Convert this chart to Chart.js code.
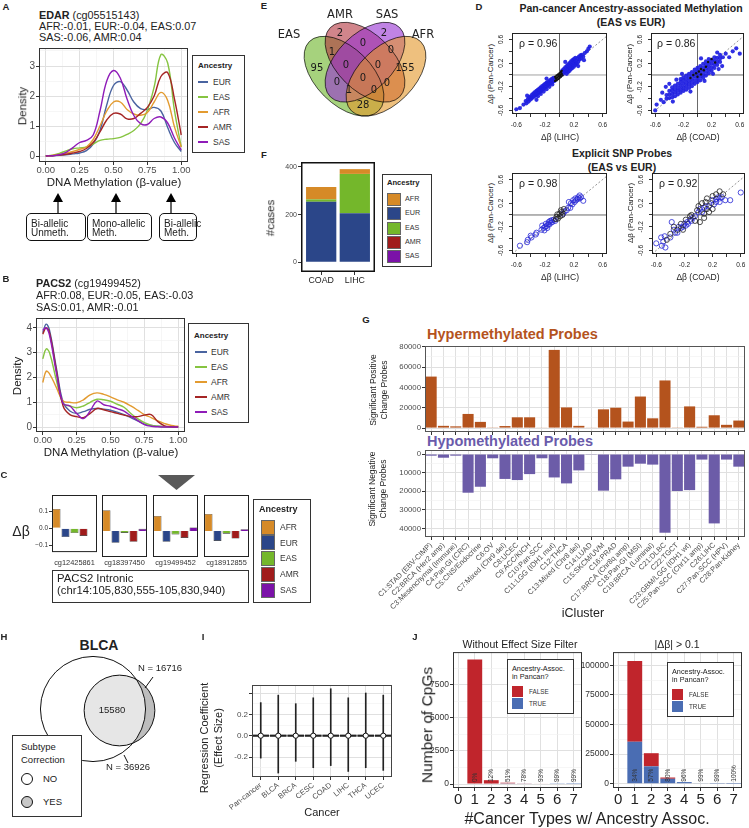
<!DOCTYPE html>
<html><head><meta charset="utf-8">
<script src="https://cdn.jsdelivr.net/npm/chart.js@4.4.1/dist/chart.umd.min.js"></script>
<style>
html,body{margin:0;padding:0;background:#fff;}
#root{position:relative;width:749px;height:828px;overflow:hidden;font-family:'Liberation Sans',Arial,sans-serif;color:#222;background:#fff;}
</style></head><body><div id="root"></div>
<script>
// ================= DATA =================
const ancestryDens = ['EUR','EAS','AFR','AMR','SAS'];
const ancestryBar = ['AFR','EUR','EAS','AMR','SAS'];
// Panel A densities (EDAR cg05515143)
const aX   = [0,0.05,0.1,0.15,0.2,0.25,0.3,0.35,0.4,0.45,0.5,0.55,0.6,0.65,0.7,0.75,0.8,0.85,0.9,0.95,1];
const aEUR = [0,0.01,0.02,0.04,0.07,0.1,0.18,0.4,0.85,1.7,2.35,2.48,2.2,1.8,1.58,1.55,1.62,1.5,0.95,0.45,0.15];
const aEAS = [0,0.03,0.09,0.17,0.24,0.27,0.3,0.4,0.52,0.56,0.58,0.62,0.72,0.85,1.08,1.52,2.3,3.38,3.1,1.52,0.3];
const aAFR = [0,0.02,0.05,0.1,0.15,0.22,0.3,0.55,1.0,1.5,1.8,1.8,1.55,1.4,1.36,1.45,1.8,2.12,1.85,0.97,0.3];
const aAMR = [0,0.01,0.03,0.06,0.1,0.15,0.25,0.45,0.8,1.2,1.42,1.4,1.24,1.25,1.42,1.62,2.0,2.65,2.78,1.9,0.7];
const aSAS = [0,0.01,0.04,0.12,0.28,0.45,0.52,0.7,1.5,2.5,2.85,2.6,1.9,1.35,1.08,1.05,1.25,1.3,1.1,0.6,0.2];
// Panel B densities (PACS2 cg19499452)
const bX   = [0,0.025,0.05,0.1,0.15,0.2,0.25,0.3,0.35,0.4,0.45,0.5,0.55,0.6,0.65,0.7,0.75,0.8,0.85,0.9,0.95,1];
const bEUR = [3.8,4.15,3.9,2.4,1.0,0.65,0.55,0.62,0.72,0.75,0.72,0.68,0.6,0.5,0.38,0.25,0.12,0.06,0.03,0.01,0,0];
const bEAS = [2.75,3.15,3.0,1.9,0.95,0.85,0.78,0.85,1.0,1.12,1.1,1.04,0.92,0.8,0.55,0.34,0.18,0.08,0.03,0.01,0,0];
const bAFR = [1.8,2.25,2.15,1.6,1.05,1.0,0.98,1.1,1.3,1.38,1.32,1.22,1.1,1.0,0.85,0.68,0.5,0.38,0.25,0.14,0.06,0.03];
const bAMR = [3.75,4.0,3.8,2.3,0.85,0.5,0.42,0.38,0.55,0.75,0.7,0.62,0.55,0.48,0.42,0.42,0.48,0.5,0.22,0.05,0.01,0];
const bSAS = [3.9,4.0,3.7,2.2,0.95,0.85,0.55,0.34,0.65,1.05,0.9,0.84,0.74,0.64,0.45,0.27,0.1,0.03,0.01,0,0,0];
// Panel C delta-beta per probe (AFR, EUR, EAS, AMR, SAS)
const cProbes = ['cg12425861','cg18397450','cg19499452','cg18912855'];
const c_cg12425861 = [0.113,-0.052,-0.028,-0.045,0.003];
const c_cg18397450 = [0.113,-0.063,-0.01,-0.058,0.012];
const c_cg19499452 = [0.082,-0.058,-0.018,-0.037,0.02];
const c_cg18912855 = [0.093,-0.053,-0.014,-0.04,0.01];
// Panel D scatter (x = cancer-specific delta-beta, y = pan-cancer delta-beta)
const dLihcBlue = [[-0.60,-0.58],[-0.55,-0.56],[-0.50,-0.50],[-0.47,-0.44],[-0.46,-0.48],[-0.45,-0.35],[-0.44,-0.41],[-0.43,-0.45],[-0.42,-0.38],[-0.41,-0.42],[-0.40,-0.36],[-0.39,-0.40],[-0.38,-0.33],[-0.37,-0.38],[-0.36,-0.31],[-0.35,-0.36],[-0.34,-0.29],[-0.33,-0.34],[-0.32,-0.27],[-0.32,-0.42],[-0.31,-0.32],[-0.30,-0.25],[-0.30,-0.36],[-0.29,-0.30],[-0.28,-0.23],[-0.27,-0.28],[-0.26,-0.21],[-0.26,-0.32],[-0.25,-0.26],[-0.24,-0.19],[-0.23,-0.24],[-0.22,-0.17],[-0.22,-0.28],[-0.21,-0.22],[-0.20,-0.15],[-0.19,-0.20],[-0.18,-0.13],[-0.18,-0.24],[-0.18,-0.06],[-0.17,-0.18],[-0.16,-0.12],[-0.15,-0.16],[-0.14,-0.10],[-0.14,-0.20],[-0.13,-0.14],[-0.12,-0.08],[-0.11,-0.13],[-0.10,-0.06],[-0.10,-0.16],[-0.09,-0.11],[-0.08,-0.05],[-0.07,-0.10],[0.04,0.08],[0.05,0.02],[0.06,0.10],[0.07,0.05],[0.08,0.13],[0.08,0.22],[0.09,0.07],[0.10,0.02],[0.10,0.15],[0.11,0.10],[0.12,0.05],[0.12,0.18],[0.13,0.12],[0.14,0.07],[0.14,0.20],[0.15,0.15],[0.16,0.10],[0.16,0.23],[0.17,0.17],[0.18,0.12],[0.18,0.25],[0.19,0.20],[0.20,0.14],[0.20,0.27],[0.21,0.22],[0.22,0.17],[0.22,0.29],[0.23,0.24],[0.24,0.19],[0.25,0.28],[0.26,0.22],[0.26,0.15],[0.27,0.31],[0.28,0.26],[0.29,0.33],[0.30,0.28],[0.31,0.34],[0.33,0.31],[0.34,0.25],[0.35,0.37],[0.38,0.40],[0.40,0.44],[0.42,0.48]];
const dLihcBlack = [[-0.06,-0.03],[-0.06,-0.10],[-0.05,-0.06],[-0.04,-0.01],[-0.04,-0.09],[-0.03,-0.04],[-0.02,0.01],[-0.02,-0.07],[-0.01,-0.02],[0.00,0.03],[0.00,-0.05],[0.01,0.00],[0.02,0.05],[0.02,-0.03],[0.03,0.02],[0.04,-0.01],[0.03,0.07]];
const dCoadBlue = [[-0.44,-0.40],[-0.44,-0.34],[-0.40,-0.39],[-0.40,-0.33],[-0.40,-0.27],[-0.36,-0.38],[-0.36,-0.32],[-0.36,-0.26],[-0.36,-0.21],[-0.32,-0.36],[-0.32,-0.30],[-0.32,-0.24],[-0.32,-0.18],[-0.28,-0.33],[-0.28,-0.27],[-0.28,-0.21],[-0.28,-0.15],[-0.24,-0.30],[-0.24,-0.24],[-0.24,-0.18],[-0.24,-0.12],[-0.24,-0.07],[-0.20,-0.27],[-0.20,-0.21],[-0.20,-0.15],[-0.20,-0.09],[-0.20,-0.04],[-0.16,-0.25],[-0.16,-0.19],[-0.16,-0.13],[-0.16,-0.07],[-0.16,-0.01],[-0.12,-0.22],[-0.12,-0.16],[-0.12,-0.10],[-0.12,-0.04],[-0.12,0.02],[-0.08,-0.19],[-0.08,-0.13],[-0.08,-0.07],[-0.08,-0.01],[-0.08,0.05],[-0.04,-0.15],[-0.04,-0.09],[-0.04,-0.03],[-0.04,0.03],[-0.04,0.09],[0.00,-0.12],[0.00,-0.06],[0.00,0.00],[0.00,0.06],[0.00,0.12],[0.04,-0.09],[0.04,-0.03],[0.04,0.03],[0.04,0.09],[0.04,0.15],[0.08,-0.05],[0.08,0.01],[0.08,0.07],[0.08,0.13],[0.08,0.19],[0.12,-0.01],[0.12,0.05],[0.12,0.11],[0.12,0.17],[0.12,0.23],[0.16,0.03],[0.16,0.09],[0.16,0.15],[0.16,0.21],[0.16,0.27],[0.20,0.07],[0.20,0.13],[0.20,0.19],[0.20,0.25],[0.24,0.12],[0.24,0.18],[0.24,0.24],[0.24,0.30],[0.28,0.17],[0.28,0.23],[0.28,0.29],[0.32,0.22],[0.32,0.28],[0.32,0.34],[0.36,0.30],[-0.58,-0.50],[-0.52,-0.42],[-0.50,-0.30],[-0.48,-0.46],[-0.45,-0.20],[-0.40,-0.15],[-0.35,-0.45],[-0.30,-0.08],[-0.22,0.02],[-0.10,-0.28],[0.05,0.28],[0.10,-0.10],[0.22,0.02],[0.28,0.38],[0.35,0.15],[0.40,0.36],[0.45,0.30],[0.50,0.40],[0.55,0.45],[0.60,0.36],[-0.60,-0.60],[0.30,0.10]];
const dCoadBlack = [[-0.10,-0.05],[-0.06,0.00],[-0.02,0.03],[0.00,-0.03],[0.02,0.06],[0.05,0.01],[0.05,0.10],[0.09,0.08],[0.12,0.14],[0.15,0.22],[0.20,0.27],[0.25,0.21]];
const dSnpLihcBlue = [[-0.55,-0.52],[-0.45,-0.46],[-0.44,-0.42],[-0.40,-0.35],[-0.39,-0.38],[-0.33,-0.33],[-0.32,-0.30],[-0.25,-0.25],[-0.24,-0.18],[-0.22,-0.22],[-0.21,-0.26],[-0.20,-0.20],[-0.19,-0.15],[-0.18,-0.19],[-0.17,-0.22],[-0.16,-0.16],[-0.15,-0.12],[-0.14,-0.16],[-0.13,-0.10],[-0.12,-0.13],[-0.11,-0.09],[-0.10,-0.12],[-0.08,-0.08],[-0.06,-0.10],[0.05,0.02],[0.07,0.06],[0.10,0.08],[0.12,0.12],[0.13,0.22],[0.15,0.12],[0.16,0.20],[0.18,0.18],[0.19,0.25],[0.21,0.22],[0.22,0.28],[0.23,0.25],[0.25,0.27],[0.26,0.30],[0.28,0.33],[0.30,0.30],[0.33,0.24],[0.28,0.28]];
const dSnpLihcBlack = [[-0.05,-0.07],[-0.04,-0.03],[-0.03,0.01],[-0.02,-0.06],[0.00,0.02],[0.01,-0.02],[0.02,0.08],[0.03,0.05],[0.04,0.00],[0.06,0.10]];
const dSnpCoadBlue = [[-0.60,-0.48],[-0.53,-0.38],[-0.52,-0.52],[-0.50,-0.45],[-0.48,-0.36],[-0.47,-0.55],[-0.40,-0.38],[-0.38,-0.12],[-0.35,-0.25],[-0.33,-0.30],[-0.30,-0.30],[-0.28,-0.20],[-0.25,-0.22],[-0.22,-0.20],[-0.20,-0.15],[-0.18,-0.18],[-0.16,-0.12],[-0.15,-0.15],[-0.12,-0.08],[-0.10,-0.10],[-0.08,-0.05],[-0.05,-0.02],[0.00,0.05],[0.02,0.10],[0.05,0.05],[0.08,0.12],[0.10,0.15],[0.15,0.15],[0.20,0.25],[0.22,0.18],[0.25,0.27],[0.28,0.30],[0.30,0.22],[0.33,0.30],[0.38,0.25],[0.45,0.25],[0.60,0.38],[0.30,0.28],[0.25,0.22]];
const dSnpCoadBlack = [[-0.45,-0.42],[-0.40,-0.32],[-0.35,-0.20],[-0.30,-0.25],[-0.25,-0.15],[-0.22,-0.25],[-0.18,-0.08],[-0.12,-0.02],[-0.10,0.00],[-0.05,-0.10],[-0.02,0.08],[0.00,0.15],[0.02,-0.12],[0.05,0.20],[0.08,0.02],[0.08,-0.05],[0.10,0.22],[0.12,0.10],[0.12,0.28],[0.15,0.05],[0.18,0.20],[0.20,0.10],[0.20,0.32],[0.25,0.35],[0.30,0.40],[0.35,0.35]];
const dRho = ['0.96','0.86','0.98','0.92'];
// Panel E Venn counts
const vennSets = ['EAS','AMR','SAS','AFR'];
const vennCounts = [2,2,0,1,0,95,0,0,155,0,0,0,1,0,28];
// Panel F cases
const fCancers = ['COAD','LIHC'];
const fAFR = [52,20];
const fEUR = [254,206];
const fEAS = [10,165];
const fAMR = [0,0];
const fSAS = [0,0];
// Panel G iCluster probes
const gClusters = ['C1:STAD (EBV-CIMP)','C2:BRCA (Her2 amp)','C3:Mesenchymal (Immune)','C4:Pan-GI (CRC)','C5:CNS/Endocrine','C6:OV','C7:Mixed (Chr9 del)','C8:UCEC','C9:ACC/KICH','C10:Pan-SCC','C11:LGG (IDH1 mut)','C12:THCA','C13:Mixed (Chr8 del)','C14:LUAD','C15:SKCM/UVM','C16:PRAD','C17:BRCA (Chr8q amp)','C18:Pan-GI (MSI)','C19:BRCA (Luminal)','C21:DLBC','C22:TGCT','C23:GBM/LGG (IDH1 wt)','C25:Pan-SCC (Chr11 amp)','C26:LIHC','C27:Pan-SCC (HPV)','C28:Pan-Kidney'];
const gHyper = [50600,2200,1700,13900,6100,300,2000,10600,10600,600,76800,20300,2200,600,18400,20000,6400,31000,9600,46800,300,21300,1300,12600,3200,7400];
const gHypo  = [900,2000,900,20800,17600,2300,13400,14000,10800,2300,12600,15800,8800,400,19700,13600,6800,5200,5700,42300,19900,19400,3000,37300,3000,6800];
// Panel H BLCA overlap
const hNo = 36926, hYes = 16716, hBoth = 15580;
// Panel I regression coefficients
const iCancers = ['Pan-cancer','BLCA','BRCA','CESC','COAD','LIHC','THCA','UCEC'];
const iMin = [-0.21,-0.35,-0.24,-0.30,-0.28,-0.335,-0.30,-0.325];
const iMax = [0.31,0.38,0.30,0.355,0.44,0.355,0.40,0.38];
const iMedian = [0,0,0,0,0,0,0,0];
// Panel J CpG counts
const jTypes = [1,2,3,4,5,6,7];
const jNoFiltTrue  = [0,35,50,31,37,20,10];
const jNoFiltFalse = [9390,255,48,9,3,0,0];
const jNoFiltPct = ['0%','12%','51%','78%','93%','99%','99%'];
const jEffTrue  = [35500,14700,4200,1400,500,150,40];
const jEffFalse = [68100,11100,1050,60,5,2,0];
const jEffPct = ['34%','57%','80%','96%','99%','99%','100%'];

// ================= STYLE / LAYOUT =================
const FONT = "'Liberation Sans', Arial, Helvetica, sans-serif";
const densColor = {EUR:'#4A64A0', EAS:'#86C441', AFR:'#E39B30', AMR:'#A52525', SAS:'#8F1CB8'};
const ancColor = {AFR:'#D68A27', EUR:'#2B4689', EAS:'#74B72B', AMR:'#A01C1C', SAS:'#7B12A8'};
Chart.defaults.font.family = FONT;
Chart.defaults.color = '#333';
Chart.defaults.plugins.legend.display = false;
Chart.defaults.plugins.tooltip.enabled = false;
Chart.defaults.animation = false;
Chart.defaults.events = [];
const root = document.getElementById('root');

function T(s, x, y, o = {}) {
  const d = document.createElement('div');
  d.innerHTML = s;
  const a = o.a || 'c';
  let tf = a === 'l' ? 'translate(0,-50%)' : a === 'r' ? 'translate(-100%,-50%)' : 'translate(-50%,-50%)';
  if (o.rot) tf += ` rotate(${o.rot}deg)`;
  d.style.cssText = `position:absolute;left:${x}px;top:${y}px;white-space:nowrap;line-height:1;transform:${tf};font-size:${o.fs||10}px;font-weight:${o.b?'bold':'normal'};color:${o.c||'#222'};font-family:${o.ff||FONT};`;
  root.appendChild(d); return d;
}
function R(x1, y1, x2, y2, css = '') {
  const d = document.createElement('div');
  d.style.cssText = `position:absolute;left:${x1}px;top:${y1}px;width:${x2-x1}px;height:${y2-y1}px;box-sizing:border-box;${css}`;
  root.appendChild(d); return d;
}
function mk(box, m, cfg, plugins = []) {
  const c = document.createElement('canvas');
  const W = box.r - box.l + m.l + m.r, H = box.b - box.t + m.t + m.b;
  c.width = W; c.height = H;
  c.style.cssText = `position:absolute;left:${box.l - m.l}px;top:${box.t - m.t}px;width:${W}px;height:${H}px;`;
  root.appendChild(c);
  const o = cfg.options = cfg.options || {};
  o.responsive = false; o.maintainAspectRatio = false; o.animation = false; o.devicePixelRatio = 1;
  o.layout = {padding: {left: 0, top: m.t, right: m.r, bottom: 0}};
  o.scales.x.afterFit = s => { s.height = m.b; };
  o.scales.y.afterFit = s => { s.width = m.l; };
  cfg.plugins = (cfg.plugins || []).concat(plugins);
  return new Chart(c, cfg);
}
function boxP(color, w) {
  return {id: 'box', afterDatasetsDraw(ch) {
    const a = ch.chartArea, ctx = ch.ctx;
    ctx.save(); ctx.strokeStyle = color; ctx.lineWidth = w;
    ctx.strokeRect(a.left + w / 2, a.top + w / 2, a.right - a.left - w, a.bottom - a.top - w);
    ctx.restore();
  }};
}
// ggplot-like linear axis: ticks every `step`, labels/tick marks on multiples of `maj`
function gg(o) {
  const maj = v => Math.abs(v / o.maj - Math.round(v / o.maj)) < 1e-6;
  const gridOn = o.grid !== false;
  return {
    type: 'linear', min: o.min, max: o.max, reverse: !!o.reverse, stacked: !!o.stacked, offset: false,
    border: {display: false},
    afterBuildTicks: s => {
      const t = [];
      for (let k = Math.ceil(o.min / o.step - 1e-9); k * o.step <= o.max + 1e-9; k++) t.push({value: +(k * o.step).toFixed(8)});
      s.ticks = t;
    },
    grid: {
      offset: false,
      drawOnChartArea: gridOn,
      color: c => (c.tick && maj(c.tick.value)) ? '#e0e0e0' : '#f0f0f0',
      lineWidth: c => (c.tick && maj(c.tick.value)) ? 1 : 0.6,
      drawTicks: true, tickLength: o.tl ?? 3,
      tickColor: c => (c.tick && maj(c.tick.value)) ? (o.tcol || '#333') : 'rgba(0,0,0,0)',
      tickWidth: 1
    },
    ticks: {
      display: o.labels !== false, autoSkip: false,
      maxRotation: o.rot || 0, minRotation: o.rot || 0, crossAlign: o.cross || 'near',
      padding: o.pad ?? 1, color: o.lc || '#4d4d4d', font: {size: o.fs || 8, family: FONT},
      callback: v => maj(v) ? o.fmt(v) : ''
    }
  };
}
function cat(o) {
  return {
    type: 'category', offset: true, border: {display: false},
    grid: {offset: false, drawOnChartArea: o.grid !== false, color: '#e0e0e0', lineWidth: 1, tickLength: 3, tickColor: '#333'},
    ticks: {display: o.labels !== false, autoSkip: false, maxRotation: o.rot || 0, minRotation: o.rot || 0,
      padding: o.pad ?? 1, color: o.lc || '#4d4d4d', font: {size: o.fs || 7, family: FONT}}
  };
}

// ================= PANEL A =================
T('A', 6, 7, {b: 1, fs: 9.5});
T('<b>EDAR</b> (cg05515143)', 39, 15, {a: 'l', fs: 10.8});
T('AFR:-0.01, EUR:-0.04, EAS:0.07', 39, 26, {a: 'l', fs: 10.8});
T('SAS:-0.06, AMR:0.04', 39, 37, {a: 'l', fs: 10.8});
function densChart(box, xs, series, ymin, ymax) {
  mk(box, {l: 25, t: 8, r: 14, b: 16}, {
    type: 'scatter',
    data: {datasets: ancestryDens.map((a, i) => ({
      data: xs.map((x, k) => ({x, y: series[i][k]})), showLine: true, tension: 0.4,
      borderColor: densColor[a], borderWidth: 1.4, pointRadius: 0, order: 10 - i
    }))},
    options: {scales: {
      x: gg({min: -0.05, max: 1.05, step: 0.125, maj: 0.25, fmt: v => v.toFixed(2), fs: 9.5, pad: 0}),
      y: gg({min: ymin, max: ymax, step: 0.5, maj: 1, fmt: v => String(v), fs: 10})
    }}
  }, [boxP('#333', 1)]);
}
densChart({l: 39, t: 48, r: 188, b: 162}, aX, [aEUR, aEAS, aAFR, aAMR, aSAS], -0.2, 3.6);
T('Density', 23, 106, {rot: -90, fs: 11.5});
T('DNA Methylation (β-value)', 114, 183, {fs: 11.5});
R(192, 55, 245, 153, 'border:1px solid #333;background:#fff');
T('Ancestry', 198, 66, {a: 'l', b: 1, fs: 8});
ancestryDens.forEach((a, i) => { const y = [82, 97, 112, 127, 142][i]; R(198, y - 0.8, 208, y + 0.8, `background:${densColor[a]}`); T(a, 213, y, {a: 'l', fs: 8.5, c: '#333'}); });
[[26, 86, 'Bi-allelic', 'Unmeth.'], [87, 152, 'Mono-allelic', 'Meth.'], [159, 197, 'Bi-allelic', 'Meth.']].forEach(b => {
  R(b[0], 213, b[1], 241, 'border:1px solid #111;border-radius:5px');
  T(b[2], b[0] + 5, 223.5, {a: 'l', fs: 10});
  T(b[3], b[0] + 5, 232.5, {a: 'l', fs: 10});
});

// ================= PANEL B =================
T('B', 6, 279, {b: 1, fs: 9.5});
T('<b>PACS2</b> (cg19499452)', 36, 283, {a: 'l', fs: 10.8});
T('AFR:0.08, EUR:-0.05, EAS:-0.03', 36, 295, {a: 'l', fs: 10.8});
T('SAS:0.01, AMR:-0.01', 36, 307, {a: 'l', fs: 10.8});
mk({l: 36, t: 318, r: 185, b: 432}, {l: 25, t: 8, r: 14, b: 16}, {
  type: 'scatter',
  data: {datasets: ancestryDens.map((a, i) => ({
    data: bX.map((x, k) => ({x, y: [bEUR, bEAS, bAFR, bAMR, bSAS][i][k]})), showLine: true, tension: 0.4,
    borderColor: densColor[a], borderWidth: 1.4, pointRadius: 0, order: 10 - i
  }))},
  options: {scales: {
    x: gg({min: -0.05, max: 1.05, step: 0.125, maj: 0.25, fmt: v => v.toFixed(2), fs: 9.5, pad: 0}),
    y: gg({min: -0.2, max: 4.4, step: 0.5, maj: 1, fmt: v => String(v), fs: 10})
  }}
}, [boxP('#333', 1)]);
T('Density', 18, 376, {rot: -90, fs: 11.5});
T('DNA Methylation (β-value)', 111, 453, {fs: 11.5});
R(188, 323, 249, 423, 'border:1px solid #333;background:#fff');
T('Ancestry', 194, 336, {a: 'l', b: 1, fs: 8});
ancestryDens.forEach((a, i) => { const y = [352, 367, 382, 397, 412][i]; R(195, y - 0.8, 207, y + 0.8, `background:${densColor[a]}`); T(a, 211, y, {a: 'l', fs: 8.5, c: '#333'}); });

// ================= PANEL C =================
T('C', 4, 475, {b: 1, fs: 9.5});
T('Δβ', 21, 531, {fs: 14});
const cVals = [c_cg12425861, c_cg18397450, c_cg19499452, c_cg18912855];
const cBoxL = [52, 102, 153, 204];
cProbes.forEach((p, k) => {
  const l = cBoxL[k];
  mk({l, t: 495, r: l + 45, b: 557}, {l: k === 0 ? 24 : 0, t: 6, r: 0, b: 0}, {
    type: 'bar',
    data: {labels: ancestryBar, datasets: [{data: cVals[k], backgroundColor: ancestryBar.map(a => ancColor[a]), borderColor: '#222', borderWidth: 0.6, categoryPercentage: 1, barPercentage: 0.88}]},
    options: {scales: {
      x: {type: 'category', display: false},
      y: {type: 'linear', min: -0.14, max: 0.195, display: k === 0, border: {display: false},
        afterBuildTicks: s => { s.ticks = [-0.1, 0, 0.1].map(value => ({value})); },
        grid: {drawOnChartArea: false, tickLength: 3, tickColor: '#333'},
        ticks: {font: {size: 6.5}, color: '#333', padding: 1,
          callback: v => Math.abs(v) < 1e-9 ? '0.0' : (v < 0 ? '\u2212' + Math.abs(v).toFixed(1) : v.toFixed(1))}}
    }}
  }, [boxP('#222', 1)]);
  T(p, l + 22.5, 563, {fs: 7.4, c: '#333'});
});
R(52, 570, 249, 603, 'border:1px solid #333');
T('PACS2 Intronic', 57, 579, {a: 'l', fs: 11.3});
T('(chr14:105,830,555-105,830,940)', 57, 591, {a: 'l', fs: 11.3});
R(253, 499, 311, 603, 'border:1px solid #333;background:#fff');
T('Ancestry', 259, 509, {a: 'l', b: 1, fs: 9});
ancestryBar.forEach((a, i) => { const y = [527, 542.5, 558, 574, 590][i]; R(261, y - 7.5, 275, y + 7.5, `background:${ancColor[a]};border:0.5px solid #666`); T(a, 280, y, {a: 'l', fs: 8.5, c: '#333'}); });

// ================= PANEL D =================
T('D', 479, 7, {b: 1, fs: 9.5});
T('Pan-cancer Ancestry-associated Methylation', 631, 8, {b: 1, fs: 10.5});
T('(EAS vs EUR)', 631, 22, {b: 1, fs: 10.5});
T('Explicit SNP Probes', 622, 153, {b: 1, fs: 10.5});
T('(EAS vs EUR)', 622, 167, {b: 1, fs: 10.5});
function refLines(hc, vc) {
  return {id: 'ref', beforeDatasetsDraw(ch) {
    const {ctx, chartArea: a, scales: {x, y}} = ch;
    ctx.save(); ctx.beginPath(); ctx.rect(a.left, a.top, a.right - a.left, a.bottom - a.top); ctx.clip();
    ctx.lineWidth = 0.8; ctx.strokeStyle = '#777'; ctx.setLineDash([2, 2]);
    ctx.beginPath(); ctx.moveTo(x.getPixelForValue(x.min), y.getPixelForValue(x.min)); ctx.lineTo(x.getPixelForValue(x.max), y.getPixelForValue(x.max)); ctx.stroke();
    ctx.setLineDash([]);
    const y0 = y.getPixelForValue(0), x0 = x.getPixelForValue(0);
    ctx.strokeStyle = hc; ctx.beginPath(); ctx.moveTo(a.left, y0); ctx.lineTo(a.right, y0); ctx.stroke();
    ctx.strokeStyle = vc; ctx.beginPath(); ctx.moveTo(x0, a.top); ctx.lineTo(x0, a.bottom); ctx.stroke();
    ctx.restore();
  }};
}
function dPlot(box, blue, black, open, hc, vc) {
  const pt = open
    ? {pointRadius: 2.6, pointBorderWidth: 0.8, pointBackgroundColor: 'rgba(0,0,0,0)'}
    : {pointRadius: 2.1, pointBorderWidth: 0};
  const fmt = v => (Math.abs(Math.abs(v) - 0.4) < 1e-6 || Math.abs(v) < 1e-6) ? '' : v.toFixed(1);
  mk(box, {l: 16, t: 8, r: 6, b: 16}, {
    type: 'scatter',
    data: {datasets: [
      Object.assign({data: black.map(p => ({x: p[0], y: p[1]})), borderColor: '#222', order: 0}, pt, open ? {} : {pointRadius: 1.2, pointBackgroundColor: '#111'}),
      Object.assign({data: blue.map(p => ({x: p[0], y: p[1]})), borderColor: '#2626D6', order: 1}, pt, open ? {} : {pointBackgroundColor: 'rgba(30,30,225,0.92)'})
    ]},
    options: {scales: {
      x: gg({min: -0.66, max: 0.66, step: 0.2, maj: 0.2, fmt, fs: 6.5, lc: '#222', grid: false, pad: 4}),
      y: gg({min: -0.66, max: 0.71, step: 0.2, maj: 0.2, fmt, fs: 6.5, lc: '#222', grid: false, rot: 90, cross: 'center', pad: 2})
    }}
  }, [refLines(hc, vc), boxP('#222', 1)]);
}
dPlot({l: 512, t: 33, r: 607, b: 114}, dLihcBlue, dLihcBlack, false, '#888', '#444');
dPlot({l: 651, t: 33, r: 744, b: 114}, dCoadBlue, dCoadBlack, false, '#444', '#444');
dPlot({l: 512, t: 173, r: 607, b: 254}, dSnpLihcBlue, dSnpLihcBlack, true, '#444', '#999');
dPlot({l: 652, t: 173, r: 745, b: 254}, dSnpCoadBlue, dSnpCoadBlack, true, '#444', '#666');
[[519, 43, 0], [657, 43, 1], [519, 183, 2], [659, 183, 3]].forEach(r => T('ρ = ' + dRho[r[2]], r[0], r[1], {a: 'l', fs: 10.5}));
[[491, 74], [630, 74], [491, 213], [631, 213]].forEach(p => T('Δβ (Pan-Cancer)', p[0], p[1], {rot: -90, fs: 8}));
T('Δβ (LIHC)', 560, 137, {fs: 8.5}); T('Δβ (COAD)', 698, 137, {fs: 8.5});
T('Δβ (LIHC)', 560, 277, {fs: 8.5}); T('Δβ (COAD)', 698, 277, {fs: 8.5});

// ================= PANEL E =================
T('E', 264, 6, {b: 1, fs: 9.5});
const vennShapes = [{cx: 0.35, cy: 0.47, rot: Math.PI / 4}, {cx: 0.5, cy: 0.57, rot: Math.PI / 4}, {cx: 0.5, cy: 0.57, rot: -Math.PI / 4}, {cx: 0.65, cy: 0.47, rot: -Math.PI / 4}];
const vennFill = ['rgba(112,182,45,0.62)', 'rgba(178,52,62,0.6)', 'rgba(150,48,210,0.6)', 'rgba(226,150,40,0.6)'];
const vennLabelPos = [[0.321, 0.777], [0.636, 0.777], [0.486, 0.705], [0.264, 0.641], [0.686, 0.655], [0.157, 0.527], [0.364, 0.548], [0.593, 0.548], [0.786, 0.527], [0.486, 0.455], [0.30, 0.427], [0.657, 0.419], [0.386, 0.37], [0.564, 0.37], [0.486, 0.262]];
mk({l: 295, t: 2, r: 435, b: 142}, {l: 0, t: 0, r: 0, b: 0}, {
  type: 'scatter', data: {datasets: []},
  options: {scales: {x: {type: 'linear', min: 0, max: 1, display: false}, y: {type: 'linear', min: 0, max: 1, display: false}}}
}, [{id: 'venn4', afterDatasetsDraw(ch) {
  const {ctx, scales: {x, y}} = ch;
  const s = x.getPixelForValue(1) - x.getPixelForValue(0);
  const path = e => { ctx.beginPath(); ctx.ellipse(x.getPixelForValue(e.cx), y.getPixelForValue(e.cy), 0.35 * s, 0.2 * s, e.rot, 0, Math.PI * 2); };
  ctx.save();
  vennShapes.forEach((e, i) => { path(e); ctx.fillStyle = vennFill[i]; ctx.fill(); });
  ctx.lineWidth = 0.8; ctx.strokeStyle = 'rgba(0,0,0,0.85)';
  vennShapes.forEach(e => { path(e); ctx.stroke(); });
  ctx.font = "10px 'DejaVu Sans', sans-serif"; ctx.fillStyle = '#1a1a1a'; ctx.textAlign = 'center'; ctx.textBaseline = 'middle';
  vennCounts.forEach((n, i) => ctx.fillText(String(n), x.getPixelForValue(vennLabelPos[i][0]), y.getPixelForValue(vennLabelPos[i][1])));
  ctx.restore();
}}]);
[[289, 35], [340, 15], [387, 15], [423, 35]].forEach((p, i) => T(vennSets[i], p[0], p[1], {fs: 11.5, ff: "'DejaVu Sans', sans-serif"}));

// ================= PANEL F =================
T('F', 264, 155, {b: 1, fs: 9.5});
mk({l: 301, t: 162, r: 375, b: 272}, {l: 26, t: 8, r: 8, b: 14}, {
  type: 'bar',
  data: {datasets: [['EUR', fEUR], ['EAS', fEAS], ['AFR', fAFR], ['AMR', fAMR], ['SAS', fSAS]].map(s => ({
    data: fCancers.map((c, i) => ({x: i + 1, y: s[1][i]})), backgroundColor: ancColor[s[0]], categoryPercentage: 1, barPercentage: 0.9
  }))},
  options: {scales: {
    x: {type: 'linear', min: 0.4, max: 2.6, stacked: true, offset: false, border: {display: false},
      afterBuildTicks: s => { s.ticks = fCancers.map((c, i) => ({value: i + 1})); },
      grid: {offset: false, drawOnChartArea: false, tickLength: 3, tickColor: '#333'},
      ticks: {autoSkip: false, maxRotation: 0, font: {size: 8.8}, color: '#222', padding: 0, callback: v => fCancers[v - 1] || ''}},
    y: gg({min: -41, max: 421, step: 200, maj: 200, fmt: v => String(v), fs: 7, grid: false, lc: '#444', stacked: true})
  }}
}, [boxP('#111', 1.5)]);
T('#cases', 271, 218, {rot: -90, fs: 11.5});
R(382, 174, 432, 267, 'border:1px solid #333;background:#fff');
T('Ancestry', 387, 183, {a: 'l', b: 1, fs: 7.6});
ancestryBar.forEach((a, i) => { const y = [199, 213, 228, 242, 256][i]; R(387, y - 6.5, 401, y + 6.5, `background:${ancColor[a]};border:0.5px solid #666`); T(a, 405, y, {a: 'l', fs: 7.2, c: '#333'}); });

// ================= PANEL G =================
T('G', 366, 320, {b: 1, fs: 9.5});
T('Hypermethylated Probes', 427, 334, {a: 'l', b: 1, fs: 14.5, c: '#B4531D'});
T('Hypomethylated Probes', 427, 441, {a: 'l', b: 1, fs: 14.5, c: '#6A5BAB'});
mk({l: 425, t: 346, r: 745, b: 432}, {l: 60, t: 6, r: 4, b: 6}, {
  type: 'bar',
  data: {labels: gClusters, datasets: [{data: gHyper, backgroundColor: '#B4531D', categoryPercentage: 1, barPercentage: 0.9}]},
  options: {scales: {x: cat({labels: false}), y: gg({min: -3840, max: 80640, step: 10000, maj: 20000, fmt: v => String(v), fs: 7.8})}}
}, [boxP('#555', 1)]);
mk({l: 425, t: 450, r: 745, b: 537}, {l: 60, t: 6, r: 4, b: 80}, {
  type: 'bar',
  data: {labels: gClusters, datasets: [{data: gHypo, backgroundColor: '#6C5CA8', categoryPercentage: 1, barPercentage: 0.9}]},
  options: {scales: {x: cat({rot: 45, fs: 7.4, pad: 1}), y: gg({min: -2150, max: 44600, step: 5000, maj: 10000, fmt: v => String(v), fs: 7.8, reverse: true})}}
}, [boxP('#555', 1)]);
T('Significant Positive', 373, 390, {rot: -90, fs: 8.5});
T('Change Probes', 384, 390, {rot: -90, fs: 8.5});
T('Significant Negative', 372, 489, {rot: -90, fs: 8.5});
T('Change Probes', 383, 489, {rot: -90, fs: 8.5});
T('iCluster', 583, 613, {fs: 12.5});

// ================= PANEL H =================
T('H', 4, 637, {b: 1, fs: 9.5});
T('BLCA', 99, 645, {b: 1, fs: 14});
const hLayout = {noX: 93, noY: 709, yesX: 119.5, yesY: 710.5, k: 0.2735};
mk({l: 0, t: 640, r: 200, b: 828}, {l: 0, t: 0, r: 0, b: 0}, {
  type: 'scatter', data: {datasets: []},
  options: {scales: {x: {type: 'linear', min: 0, max: 200, display: false}, y: {type: 'linear', min: 640, max: 828, reverse: true, display: false}}}
}, [{id: 'vennH', afterDatasetsDraw(ch) {
  const {ctx, scales: {x, y}} = ch;
  const s = x.getPixelForValue(1) - x.getPixelForValue(0);
  const bx = x.getPixelForValue(hLayout.noX), by = y.getPixelForValue(hLayout.noY), br = hLayout.k * Math.sqrt(hNo) * s;
  const sx = x.getPixelForValue(hLayout.yesX), sy = y.getPixelForValue(hLayout.yesY), sr = hLayout.k * Math.sqrt(hYes) * s;
  const circ = (cx, cy, r) => { ctx.beginPath(); ctx.arc(cx, cy, r, 0, Math.PI * 2); };
  ctx.save();
  circ(bx, by, br); ctx.fillStyle = '#fff'; ctx.fill();
  circ(sx, sy, sr); ctx.fillStyle = '#bdbdbd'; ctx.fill();
  ctx.save(); circ(bx, by, br); ctx.clip(); circ(sx, sy, sr); ctx.fillStyle = '#e6e6e6'; ctx.fill(); ctx.restore();
  ctx.strokeStyle = '#111'; ctx.lineWidth = 1;
  circ(bx, by, br); ctx.stroke(); circ(sx, sy, sr); ctx.stroke();
  ctx.beginPath(); ctx.moveTo(x.getPixelForValue(153), y.getPixelForValue(677)); ctx.lineTo(x.getPixelForValue(145), y.getPixelForValue(688)); ctx.stroke();
  ctx.beginPath(); ctx.moveTo(x.getPixelForValue(124), y.getPixelForValue(755)); ctx.lineTo(x.getPixelForValue(128), y.getPixelForValue(763)); ctx.stroke();
  ctx.fillStyle = '#222'; ctx.font = `9.5px ${FONT}`; ctx.textBaseline = 'middle';
  ctx.textAlign = 'center'; ctx.fillText(String(hBoth), x.getPixelForValue(112), y.getPixelForValue(710));
  ctx.textAlign = 'left';
  ctx.fillText('N = ' + hYes, x.getPixelForValue(138), y.getPixelForValue(668));
  ctx.fillText('N = ' + hNo, x.getPixelForValue(106), y.getPixelForValue(767));
  ctx.restore();
}}]);
R(12, 735, 82, 817, 'border:1px solid #333;background:#fff');
T('Subtype', 21, 747, {a: 'l', fs: 9.5});
T('Correction', 21, 760, {a: 'l', fs: 9.5});
R(21, 773, 33, 785, 'border:1px solid #111;border-radius:50%;background:#fff');
T('NO', 43, 779, {a: 'l', fs: 9.5});
R(21, 796, 33, 808, 'border:1px solid #111;border-radius:50%;background:#c8c8c8');
T('YES', 43, 802, {a: 'l', fs: 9.5});

// ================= PANEL I =================
T('I', 203, 637, {b: 1, fs: 9.5});
mk({l: 252, t: 685, r: 392, b: 777}, {l: 40, t: 8, r: 8, b: 36}, {
  type: 'bar',
  data: {labels: iCancers, datasets: [
    {type: 'line', data: iMedian, showLine: false, pointRadius: 2.6, pointBackgroundColor: '#fff', pointBorderColor: '#111', pointBorderWidth: 1, order: 0},
    {data: iCancers.map((c, i) => [iMin[i], iMax[i]]), backgroundColor: '#222', barThickness: 1, grouped: false, order: 2},
    {data: iMedian.map(v => [v - 0.007, v + 0.007]), backgroundColor: '#222', barThickness: 16, grouped: false, order: 1}
  ]},
  options: {scales: {
    x: cat({rot: 38, fs: 7.6, pad: 1}),
    y: gg({min: -0.387, max: 0.475, step: 0.1, maj: 0.2, fmt: v => Math.abs(v - 0.4) < 1e-6 ? '' : v.toFixed(1), fs: 8})
  }}
}, [boxP('#444', 1)]);
T('Regression Coefficient', 204, 738, {rot: -90, fs: 11});
T('(Effect Size)', 218, 738, {rot: -90, fs: 11});
T('Cancer', 322, 812, {fs: 11});

// ================= PANEL J =================
T('J', 415, 637, {b: 1, fs: 9.5});
function pctP(labels) {
  return {id: 'pct', afterDatasetsDraw(ch) {
    const {ctx, scales: {x, y}} = ch;
    ctx.save(); ctx.font = `6.5px ${FONT}`; ctx.fillStyle = '#333'; ctx.textAlign = 'left'; ctx.textBaseline = 'middle';
    labels.forEach((s, i) => { ctx.save(); ctx.translate(x.getPixelForValue(jTypes[i]), y.getPixelForValue(0) - 2); ctx.rotate(-Math.PI / 2); ctx.fillText(s, 0, 0); ctx.restore(); });
    ctx.restore();
  }};
}
function jChart(box, mL, tArr, fArr, pcts, yo) {
  mk(box, {l: mL, t: 6, r: 6, b: 22}, {
    type: 'bar',
    data: {datasets: [
      {data: jTypes.map((x, i) => ({x, y: tArr[i]})), backgroundColor: '#4A6DB3', categoryPercentage: 1, barPercentage: 0.9},
      {data: jTypes.map((x, i) => ({x, y: fArr[i]})), backgroundColor: '#C0252C', categoryPercentage: 1, barPercentage: 0.9}
    ]},
    options: {scales: {
      x: gg({min: -0.32, max: 7.5, step: 1, maj: 1, fmt: v => String(v), fs: 15, lc: '#222', pad: 0, stacked: true}),
      y: gg({min: yo.min, max: yo.max, step: yo.step, maj: yo.maj, fmt: v => String(v), fs: 8.5, lc: '#333', stacked: true})
    }}
  }, [boxP('#333', 1), pctP(pcts)]);
}
jChart({l: 453, t: 652, r: 582, b: 788}, 36, jNoFiltTrue, jNoFiltFalse, jNoFiltPct, {min: -300, max: 9950, step: 1250, maj: 2500});
jChart({l: 613, t: 652, r: 742, b: 788}, 40, jEffTrue, jEffFalse, jEffPct, {min: -3600, max: 111200, step: 12500, maj: 25000});
T('Without Effect Size Filter', 520, 644, {fs: 10.5});
T('|Δβ| &gt; 0.1', 677, 644, {fs: 10.5});
T('Number of CpGs', 427, 725, {rot: -90, fs: 15.5});
T('#Cancer Types w/ Ancestry Assoc.', 587, 819, {fs: 16});
[[507, 659], [667, 662]].forEach(p => {
  const [x, y] = p;
  R(x, y, x + 67, y + 55, 'border:1px solid #333;background:#fff');
  T('Ancestry-Assoc.', x + 5, y + 10, {a: 'l', fs: 7.3});
  T('in Pancan?', x + 5, y + 18, {a: 'l', fs: 7.3});
  R(x + 5, y + 27, x + 16, y + 38, 'background:#C0252C');
  T('FALSE', x + 22, y + 32.5, {a: 'l', fs: 6.3, c: '#333'});
  R(x + 5, y + 39, x + 16, y + 50, 'background:#4A6DB3');
  T('TRUE', x + 22, y + 44.5, {a: 'l', fs: 6.3, c: '#333'});
});

// ================= annotations (arrows, triangle) =================
const sv = document.createElementNS('http://www.w3.org/2000/svg', 'svg');
sv.setAttribute('width', '749'); sv.setAttribute('height', '828');
sv.style.cssText = 'position:absolute;left:0;top:0;pointer-events:none';
sv.innerHTML = [58, 116, 171].map(x => `<polygon points="${x - 5},202 ${x + 5},202 ${x},193" fill="#000"/><line x1="${x}" y1="202" x2="${x}" y2="213" stroke="#000" stroke-width="1.2"/>`).join('')
  + '<polygon points="158,475 195,475 176.5,490" fill="#595959"/>';
root.appendChild(sv);
</script></body></html>
